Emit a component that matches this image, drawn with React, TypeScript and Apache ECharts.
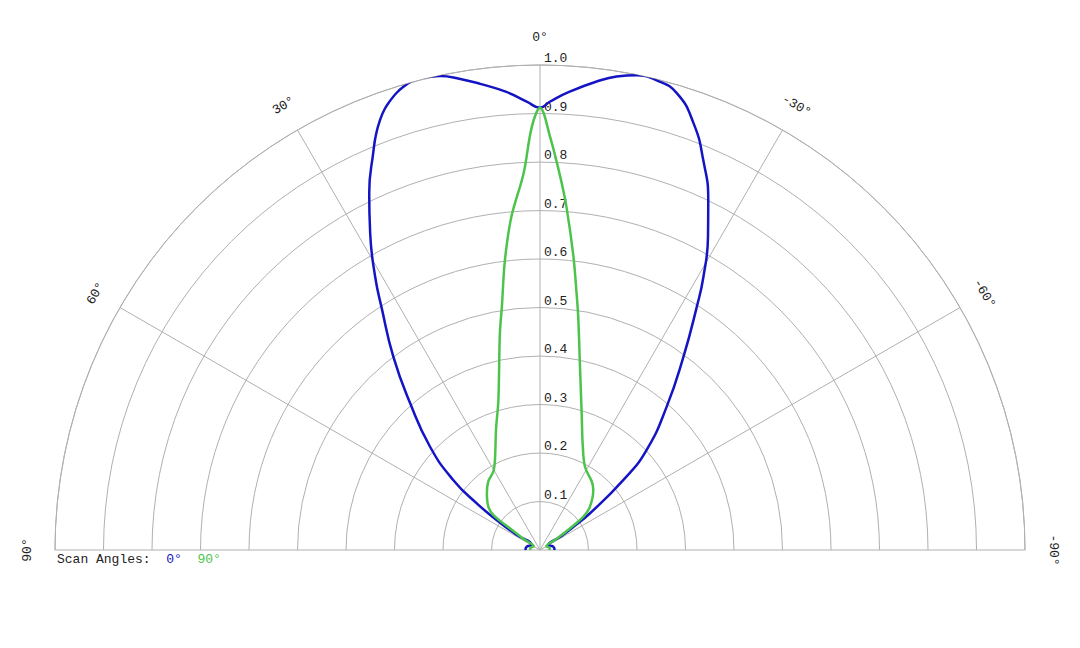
import React, { useEffect, useRef } from "react";
import * as echarts from "echarts";

// radial pattern, angles in degrees (positive = left of broadside), values normalised
const seriesNames = ["0°", "90°"];

const scan0Angles = [
  120, 105, 90, 75, 60, 57, 55.3, 53.6, 51.1, 46.8, 41.5, 37.2, 33.2, 31.1, 28.2, 25.6,
  22.6, 21.5, 20.4, 19.4, 18.4, 17.4, 16.4, 15.3, 14.2, 11.9, 9.6, 7.3, 4.2, 1.7, 0,
  -1.3, -3.7, -6.9, -9.2, -11.5, -13.9, -16.7, -19.8, -22.7, -25.7, -28.2, -30.9,
  -32.8, -36.6, -41.5, -46.9, -50, -53.7, -55.5, -57, -60, -75, -90, -105, -120,
];
const scan0Values = [
  0.008, 0.02, 0.03, 0.028, 0.02, 0.06, 0.109, 0.162, 0.23, 0.311, 0.404, 0.5, 0.596,
  0.658, 0.741, 0.815, 0.893, 0.922, 0.946, 0.964, 0.977, 0.988, 0.996, 1.002, 1.004,
  0.999, 0.985, 0.969, 0.947, 0.925, 0.912, 0.925, 0.947, 0.973, 0.989, 0.999, 0.998,
  0.983, 0.935, 0.872, 0.8, 0.733, 0.656, 0.597, 0.496, 0.394, 0.3, 0.224, 0.128, 0.08,
  0.05, 0.02, 0.028, 0.03, 0.02, 0.008,
];

const scan90Angles = [
  120, 105, 90, 75, 60, 56, 54.4, 53.1, 50, 43.2, 37.1, 30.8, 26.6, 20, 15.5, 10.5,
  8.9, 6.9, 4.9, 2.5, 1.1, 0, -1.4, -3.1, -4.4, -6.5, -8.1, -9.3, -12.3, -17.4, -22,
  -28.4, -37.1, -41.6, -49.1, -52.4, -54.4, -56, -60, -75, -90, -105, -120,
];
const scan90Values = [
  0.004, 0.012, 0.02, 0.02, 0.015, 0.04, 0.07, 0.12, 0.139, 0.16, 0.177, 0.188, 0.2075,
  0.265, 0.321, 0.454, 0.508, 0.602, 0.69, 0.777, 0.873, 0.912, 0.852, 0.771, 0.71,
  0.609, 0.535, 0.4875, 0.387, 0.288, 0.235, 0.195, 0.177, 0.1655, 0.136, 0.113, 0.07,
  0.04, 0.015, 0.02, 0.02, 0.012, 0.004,
];

const angleTicks = [90, 60, 30, 0, -30, -60, -90];

const CX = 540;
const CY = 550;
const R = 485;
const LABEL_R = 513;
const GRID = "#b0b0b0";
const BLUE = "#1414c4";
const GREEN = "#4cc44c";
const MONO = "'Liberation Mono', 'DejaVu Sans Mono', monospace";

const App: React.FC = () => {
  const chartRef = useRef<HTMLDivElement | null>(null);

  useEffect(() => {
    if (!chartRef.current) return;
    const chart = echarts.init(chartRef.current, undefined, { renderer: "svg" });

    const angleLabels = angleTicks.map((a) => {
      const rad = (a * Math.PI) / 180;
      return {
        type: "text",
        x: CX - LABEL_R * Math.sin(rad),
        y: CY - LABEL_R * Math.cos(rad),
        rotation: rad,
        style: {
          text: `${a}°`,
          textAlign: "center",
          textVerticalAlign: "middle",
          align: "center",
          verticalAlign: "middle",
          fontFamily: MONO,
          fontSize: 13,
          fill: "#222",
        },
      };
    });

    const option = {
      animation: false,
      backgroundColor: "#ffffff",
      polar: [
        { center: [CX, CY], radius: R },
        { center: [CX, CY], radius: R },
      ],
      angleAxis: [
        {
          polarIndex: 0,
          type: "value",
          min: -90,
          max: 90,
          interval: 30,
          startAngle: 0,
          endAngle: 180,
          clockwise: false,
          axisLine: { show: true, lineStyle: { color: GRID, width: 1 } },
          axisTick: { show: false },
          axisLabel: { show: false },
          splitLine: { show: true, lineStyle: { color: GRID, width: 1 } },
        },
        {
          polarIndex: 1,
          type: "value",
          min: 0,
          max: 360,
          startAngle: 90,
          axisLine: { show: false },
          axisTick: { show: false },
          axisLabel: { show: false },
          splitLine: { show: false },
        },
      ],
      radiusAxis: [
        {
          polarIndex: 0,
          type: "value",
          min: 0,
          max: 1,
          interval: 0.1,
          axisLine: { show: false },
          axisTick: { show: false },
          axisLabel: { show: false },
          splitLine: { show: true, lineStyle: { color: GRID, width: 1 } },
        },
        {
          polarIndex: 1,
          type: "value",
          min: 0,
          max: 1,
          interval: 0.1,
          axisLine: { show: false },
          axisTick: { show: false },
          splitLine: { show: false },
          axisLabel: {
            show: true,
            showMinLabel: false,
            margin: -4,
            align: "left",
            verticalAlign: "bottom",
            fontFamily: MONO,
            fontSize: 13,
            color: "#222",
            formatter: (v: number) => v.toFixed(1),
          },
        },
      ],
      series: [
        {
          name: seriesNames[0],
          type: "line",
          coordinateSystem: "polar",
          polarIndex: 0,
          data: scan0Values.map((v, i) => [v, scan0Angles[i]]),
          showSymbol: false,
          smooth: 0.5,
          clip: false,
          lineStyle: { color: BLUE, width: 2.5 },
          itemStyle: { color: BLUE },
        },
        {
          name: seriesNames[1],
          type: "line",
          coordinateSystem: "polar",
          polarIndex: 0,
          data: scan90Values.map((v, i) => [v, scan90Angles[i]]),
          showSymbol: false,
          smooth: 0.35,
          clip: false,
          lineStyle: { color: GREEN, width: 2.5 },
          itemStyle: { color: GREEN },
        },
      ],
      graphic: [
        ...angleLabels,
        {
          type: "text",
          left: 57,
          top: 553,
          style: {
            text: `Scan Angles:  {s0|${seriesNames[0]}}  {s1|${seriesNames[1]}}`,
            fontFamily: MONO,
            fontSize: 13,
            fill: "#222",
            rich: {
              s0: { fill: BLUE, fontFamily: MONO, fontSize: 13 },
              s1: { fill: GREEN, fontFamily: MONO, fontSize: 13 },
            },
          },
        },
      ],
    };

    chart.setOption(option as any);

    const handleResize = () => chart.resize();
    window.addEventListener("resize", handleResize);
    return () => {
      window.removeEventListener("resize", handleResize);
      chart.dispose();
    };
  }, []);

  return (
    <div
      ref={chartRef}
      style={{ position: "fixed", left: 0, top: 0, width: "100vw", height: "100vh" }}
    />
  );
};

export default App;
